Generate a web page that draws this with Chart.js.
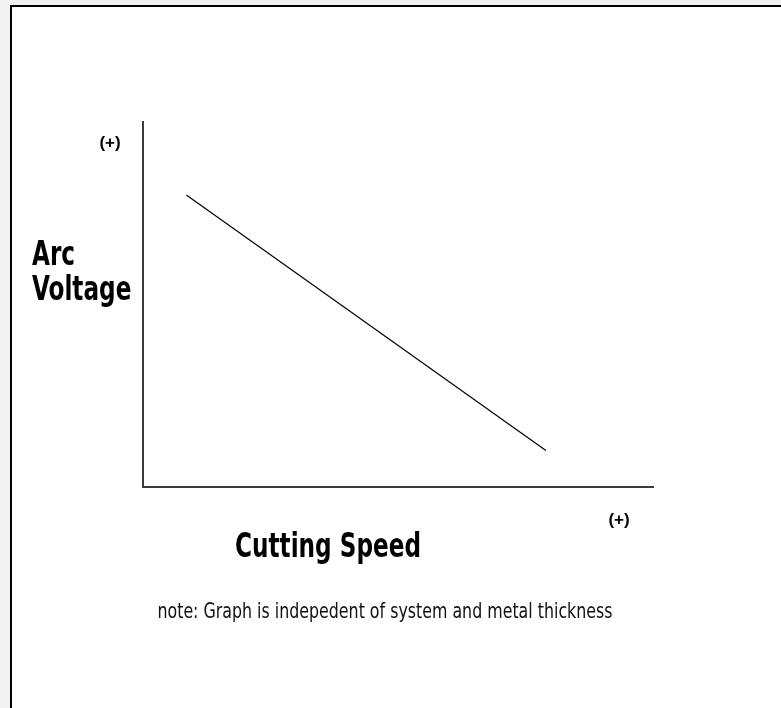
<!DOCTYPE html>
<html>
<head>
<meta charset="utf-8">
<script src="https://cdn.jsdelivr.net/npm/chart.js@4"></script>
<style>
  html, body { margin: 0; padding: 0; background: #f2f2f2; overflow: hidden; }
  #frame { position: absolute; left: 10px; top: 5px; width: 900px; height: 800px;
           background: #fff; border-left: 2px solid #000; border-top: 2px solid #000; }
  #myChart { position: absolute; left: 0; top: 0; }
</style>
</head>
<body>
<div id="frame"></div>
<canvas id="myChart" width="781" height="708"></canvas>
<script>
// verdier lest av bildet (akse 0-10, ingen skala vist)
const speed = [0.85, 7.9];
const voltage = [8.0, 1.0];
const axisMax = 10;
const plusLabel = '(+)';
const yTitle = ['Arc', 'Voltage'];
const xTitle = 'Cutting Speed';
const note = 'note: Graph is indepedent of system and metal thickness';

const narrow = '"DejaVu Sans Condensed", "Liberation Sans", sans-serif';

// skriver smal tekst (skalerer bredden)
function smalTekst(c, txt, x, y, sx, align) {
  c.save();
  c.translate(x, y);
  c.scale(sx, 1);
  c.textAlign = align;
  c.fillText(txt, 0, 0);
  c.restore();
}

// tekstene rundt grafen
const labelsPlugin = {
  id: 'labels',
  afterDraw(chart) {
    const c = chart.ctx;
    c.save();
    c.fillStyle = '#000';
    c.textBaseline = 'alphabetic';

    c.font = 'bold 17px "Liberation Sans", sans-serif';
    c.textAlign = 'center';
    c.fillText(plusLabel, 110, 148);
    c.fillText(plusLabel, 619, 525);

    c.font = 'bold 33px ' + narrow;
    smalTekst(c, yTitle[0], 32, 265, 0.78, 'left');
    smalTekst(c, yTitle[1], 32, 300, 0.78, 'left');
    smalTekst(c, xTitle, 328, 557, 0.78, 'center');

    c.font = '22px ' + narrow;
    c.fillStyle = '#111';
    smalTekst(c, note, 385, 618, 0.8, 'center');
    c.restore();
  }
};

const ctx = document.getElementById('myChart');

const myChart = new Chart(ctx, {
  type: 'line',
  data: {
    datasets: [{
      data: speed.map((s, i) => ({ x: s, y: voltage[i] })),
      borderColor: '#000',
      borderWidth: 1.2,
      pointRadius: 0,
      tension: 0
    }]
  },
  options: {
    responsive: false,
    animation: false,
    layout: { padding: { left: 135, top: 122, right: 128, bottom: 213 } },
    plugins: { legend: { display: false }, tooltip: { enabled: false } },
    scales: {
      x: {
        type: 'linear', min: 0, max: axisMax,
        ticks: { display: false },
        grid: { display: false },
        border: { display: true, color: '#3a3a3a', width: 2 }
      },
      y: {
        min: 0, max: axisMax,
        ticks: { display: false },
        grid: { display: false },
        border: { display: true, color: '#3a3a3a', width: 2 }
      }
    }
  },
  plugins: [labelsPlugin]
});
</script>
</body>
</html>
